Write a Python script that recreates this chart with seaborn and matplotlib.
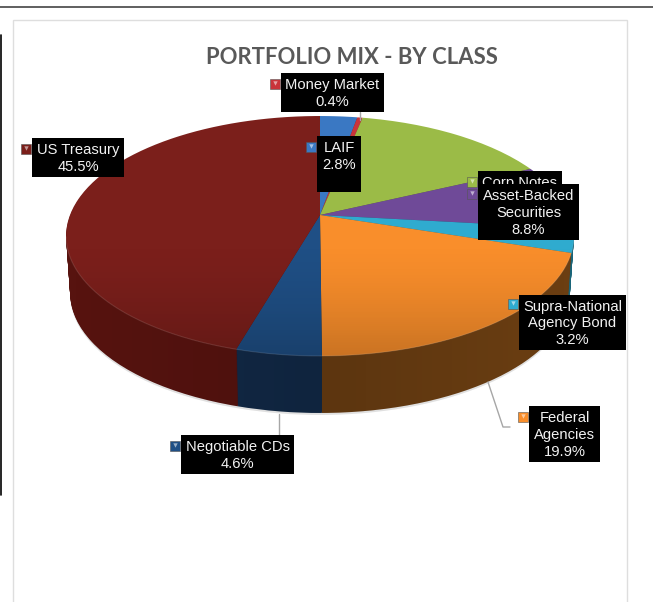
import numpy as np
import matplotlib
matplotlib.use("Agg")
import matplotlib.pyplot as plt
from matplotlib.patches import Polygon, Rectangle
import seaborn as sns

# Data
categories = ["LAIF", "Money Market", "Corp Notes", "Asset-Backed Securities",
              "Supra-National Agency Bond", "Federal Agencies", "Negotiable CDs", "US Treasury"]
values = [2.8, 0.4, 14.8, 8.8, 3.2, 19.9, 4.6, 45.5]
label_names = ["LAIF", "Money Market", "Corp Notes", "Asset-Backed\nSecurities",
               "Supra-National\nAgency Bond", "Federal\nAgencies", "Negotiable CDs", "US Treasury"]
face_colors = ["#3a78c3", "#c9343a", "#9bbb47", "#6f4a98", "#2fabcf", "#f98e2b", "#1f4f85", "#7b1f1b"]
rim_colors = ["#1f4470", "#74191d", "#566b25", "#3e2858", "#1a6579", "#6b3e12", "#122a48", "#57130f"]
# label box in picture pixels: left, top, right, bottom
label_boxes = [(317, 136, 361, 192), (281, 73, 384, 112), (478, 171, 562, 210), (478, 184, 579, 240),
               (519, 295, 626, 350), (529, 406, 600, 462), (181, 435, 294, 474), (32, 138, 124, 177)]
key_spots = [(311, 147), (275, 84), (472, 182), (472, 194), (513, 304), (523, 417), (175, 446), (26, 149)]
leaders = [([360, 360], [112, 120]), ([279, 279], [414, 435]), ([488, 503, 510], [382, 427, 427])]

W, H = 653, 602
sns.set_theme(style="white", palette=sns.color_palette(face_colors))
plt.rcParams["font.family"] = ["Liberation Sans", "DejaVu Sans"]

fig = plt.figure(figsize=(W / 100, H / 100), dpi=100, facecolor="white")
ax = fig.add_axes([0, 0, 1, 1])

cx, top_y = 320, 215
rx = 254
depth = 57
# perspective of the tilted disc
persp_k, persp_a, persp_b = 0.175, 116.3, 250


def up(y):
    return H - y


def project(pts):
    X = (pts[:, 0] - cx) / rx
    Y = (pts[:, 1] - up(top_y)) / rx
    w = 1 + persp_k * Y
    return np.column_stack([cx + persp_b * X / w, up(top_y) + persp_a * Y / w])


def lower(pts, d):
    # the far (bottom) disc is a little narrower and sits lower
    pts = pts.copy()
    pts[:, 0] = cx + (pts[:, 0] - cx) * (1 - 0.016 * d / depth)
    pts[:, 1] -= d
    return pts


wedges, _ = ax.pie(values, colors=face_colors, startangle=90, counterclock=False,
                   center=(cx, up(top_y)), radius=rx, frame=True)
shapes = [project(w.get_path().to_polygons()[0]) for w in wedges]
for w in wedges:
    w.remove()

# soft shadow under the rim
for s in shapes:
    ax.add_patch(Polygon(lower(s, depth + 2), fc="#999999", ec="none", alpha=0.3, zorder=1))

# rim made of stacked copies of the slices
for d in range(depth, 0, -1):
    for s, c in zip(shapes, rim_colors):
        ax.add_patch(Polygon(lower(s, d), fc=c, ec="none", zorder=2))

# rim is a bit darker toward the middle of the front
theta = np.linspace(0, 2 * np.pi, 500)
disc = project(np.column_stack([cx + rx * np.cos(theta), up(top_y) + rx * np.sin(theta)]))
front = disc[disc[:, 1] < up(236)]
front = front[np.argsort(front[:, 0])]
rim_outline = np.vstack([front, lower(front, depth)[::-1]])
rim_patch = Polygon(rim_outline, fc="none", ec="none", zorder=2)
ax.add_patch(rim_patch)
rim_shade = np.zeros((2, 100, 4))
rim_shade[:, :, 3] = 0.14 * (1 - np.abs(np.linspace(-1, 1, 100)))
im_rim = ax.imshow(rim_shade, extent=(66, 574, up(420), up(230)), aspect="auto", zorder=2.5)
im_rim.set_clip_path(rim_patch)

for s, c in zip(shapes, face_colors):
    ax.add_patch(Polygon(s, fc=c, ec="none", zorder=3))

# darkening toward the front of the top face
disc_patch = Polygon(disc, fc="none", ec="none", zorder=3)
ax.add_patch(disc_patch)
grad = np.zeros((100, 2, 4))
grad[:, :, 3] = 0.2 * np.linspace(0, 1, 100)[:, None] ** 1.5
im = ax.imshow(grad, extent=(60, 580, up(360), up(240)), aspect="auto", zorder=4)
im.set_clip_path(disc_patch)
ax.plot(front[:, 0], front[:, 1], color="white", alpha=0.12, lw=0.8, zorder=4)

# page lines and chart frame
ax.plot([0, W], [up(6.5), up(6.5)], color="#444444", lw=1.2, zorder=1)
ax.plot([0.5, 0.5], [up(35), up(495)], color="black", lw=1.2, zorder=1)
ax.add_patch(Rectangle((12.5, up(620)), 614, 620 - 19.5, fc="none", ec="#dedede", lw=1, zorder=1))

ax.text(352, up(58), "PORTFOLIO MIX - BY CLASS", family="Lato", weight="bold", fontsize=15.9,
        color="#595959", ha="center", va="center", zorder=6)

for xs, ys in leaders:
    ax.plot(xs, [up(y) for y in ys], color="#a6a6a6", lw=1, zorder=5)

# data labels, later ones sit over earlier ones
for name, val, box, spot, c in zip(label_names, values, label_boxes, key_spots, face_colors):
    left, top, right, bottom = box
    ax.add_patch(Rectangle((left, up(bottom)), right - left, bottom - top, fc="black", ec="none", zorder=7))
    txt = f"{name}\n{val}%"
    if name == "LAIF":
        txt += "\n "
    ax.text((left + right) / 2, up((top + bottom) / 2 + 1), txt, color="#f2f2f2", fontsize=10.6,
            ha="center", va="center", linespacing=1.27, zorder=7)
    ax.scatter(spot[0], up(spot[1]), marker="s", s=52, color=c, edgecolors="#555555", linewidths=0.4, zorder=8)
    ax.scatter(spot[0], up(spot[1]) + 1, marker="v", s=10, color="white", alpha=0.55, linewidths=0, zorder=8)

ax.set_xlim(0, W)
ax.set_ylim(0, H)
ax.set_aspect("auto")
ax.axis("off")

fig.savefig("out.png", dpi=100, facecolor="white")
